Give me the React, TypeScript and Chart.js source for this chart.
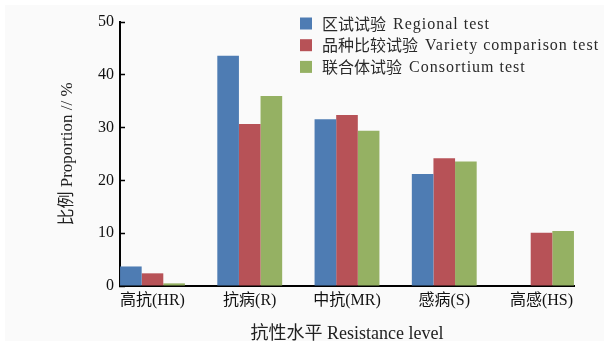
import React, { useEffect, useRef } from 'react';
import { Chart, registerables } from 'chart.js';

Chart.register(...registerables);

const categories = ['高抗(HR)', '抗病(R)', '中抗(MR)', '感病(S)', '高感(HS)'];
const seriesNames = [
  '区试试验 Regional test',
  '品种比较试验 Variety comparison test',
  '联合体试验 Consortium test',
];
const regionalValues = [3.7, 43.6, 31.6, 21.2, 0];
const varietyValues = [2.4, 30.7, 32.4, 24.2, 10.1];
const consortiumValues = [0.5, 36.0, 29.4, 23.6, 10.4];
const yTickValues = [0, 10, 20, 30, 40, 50];
const seriesColors = ['#4E7CB3', '#B75257', '#95B163'];
const xTitle = '抗性水平 Resistance level';
const yTitle = '比例 Proportion // %';

const backgroundPlugin = {
  id: 'paperBackground',
  beforeDraw(chart: any) {
    const { ctx, width, height } = chart;
    ctx.save();
    ctx.fillStyle = '#ffffff';
    ctx.fillRect(0, 0, width, height);
    ctx.fillStyle = '#fafafa';
    ctx.fillRect(5, 5, width - 10, height - 10);
    ctx.restore();
  },
};

const legendPlugin = {
  id: 'splitFontLegend',
  afterDraw(chart: any) {
    const { ctx, chartArea } = chart;
    ctx.save();
    chart.data.datasets.forEach((ds: any, i: number) => {
      const x = chartArea.left + 180;
      const y = chartArea.top + 1.5 + i * 21.7;
      ctx.fillStyle = ds.backgroundColor;
      ctx.fillRect(x, y - 6, 12, 12);
      const label: string = ds.label;
      const sp = label.indexOf(' ');
      const cjk = label.slice(0, sp);
      const latin = label.slice(sp + 1);
      ctx.fillStyle = '#2a2a2a';
      ctx.textBaseline = 'middle';
      ctx.textAlign = 'left';
      ctx.font = "16px 'Noto Sans CJK SC'";
      (ctx as any).letterSpacing = '0px';
      ctx.fillText(cjk, x + 22, y);
      const w = ctx.measureText(cjk).width;
      ctx.font = "16px 'Liberation Serif'";
      (ctx as any).letterSpacing = '1px';
      ctx.fillText(latin, x + 22 + w + 7, y + 1);
      (ctx as any).letterSpacing = '0px';
    });
    ctx.restore();
  },
};

export default function App() {
  const canvasRef = useRef<HTMLCanvasElement | null>(null);

  useEffect(() => {
    if (!canvasRef.current) return;
    const seriesValues = [regionalValues, varietyValues, consortiumValues];
    const chart = new Chart(canvasRef.current, {
      type: 'bar',
      data: {
        datasets: seriesValues.map((vals, si) => ({
          label: seriesNames[si],
          data: vals.map((v, i) => ({ x: i, y: v })),
          backgroundColor: seriesColors[si],
          borderWidth: 0,
          categoryPercentage: 0.667,
          barPercentage: 1,
        })),
      },
      options: {
        animation: false,
        responsive: true,
        maintainAspectRatio: false,
        layout: { padding: { top: 22, right: 35, left: 0, bottom: 0 } },
        plugins: {
          legend: { display: false },
          tooltip: { enabled: false },
        },
        scales: {
          x: {
            type: 'linear',
            min: -0.334,
            max: 4.334,
            offset: false,
            grid: { display: false, drawTicks: false, offset: false },
            border: { display: true, color: '#000', width: 2 },
            afterBuildTicks: (s: any) => {
              s.ticks = categories.map((_, i) => ({ value: i }));
            },
            ticks: {
              callback: (v: any) => categories[v] ?? '',
              font: { family: "'Liberation Serif', 'Noto Sans CJK SC'", size: 16 },
              color: '#111',
              padding: 5,
              maxRotation: 0,
              autoSkip: false,
            },
            title: {
              display: true,
              text: xTitle,
              font: { family: "'Liberation Serif', 'Noto Sans CJK SC'", size: 18 },
              color: '#222',
              padding: { top: 0, bottom: 1 },
            },
            afterFit: (s: any) => {
              s.height = 60;
            },
          },
          y: {
            min: 0,
            max: 50,
            afterBuildTicks: (s: any) => {
              s.ticks = yTickValues.map((v) => ({ value: v }));
            },
            grid: {
              drawOnChartArea: false,
              drawTicks: true,
              tickLength: -5,
              color: '#000',
              tickWidth: 1.5,
            },
            border: { display: true, color: '#000', width: 2 },
            ticks: {
              padding: 11,
              font: { family: "'Liberation Serif'", size: 16 },
              color: '#111',
            },
            title: {
              display: true,
              text: yTitle,
              font: { family: "'Liberation Serif', 'Noto Sans CJK SC'", size: 17 },
              color: '#222',
              padding: { top: 57, bottom: 0 },
            },
            afterFit: (s: any) => {
              s.width = 120;
            },
          },
        },
      } as any,
      plugins: [backgroundPlugin, legendPlugin],
    });
    return () => chart.destroy();
  }, []);

  return (
    <div style={{ position: 'fixed', left: 0, top: 0, width: 609, height: 346 }}>
      <canvas ref={canvasRef} />
    </div>
  );
}
